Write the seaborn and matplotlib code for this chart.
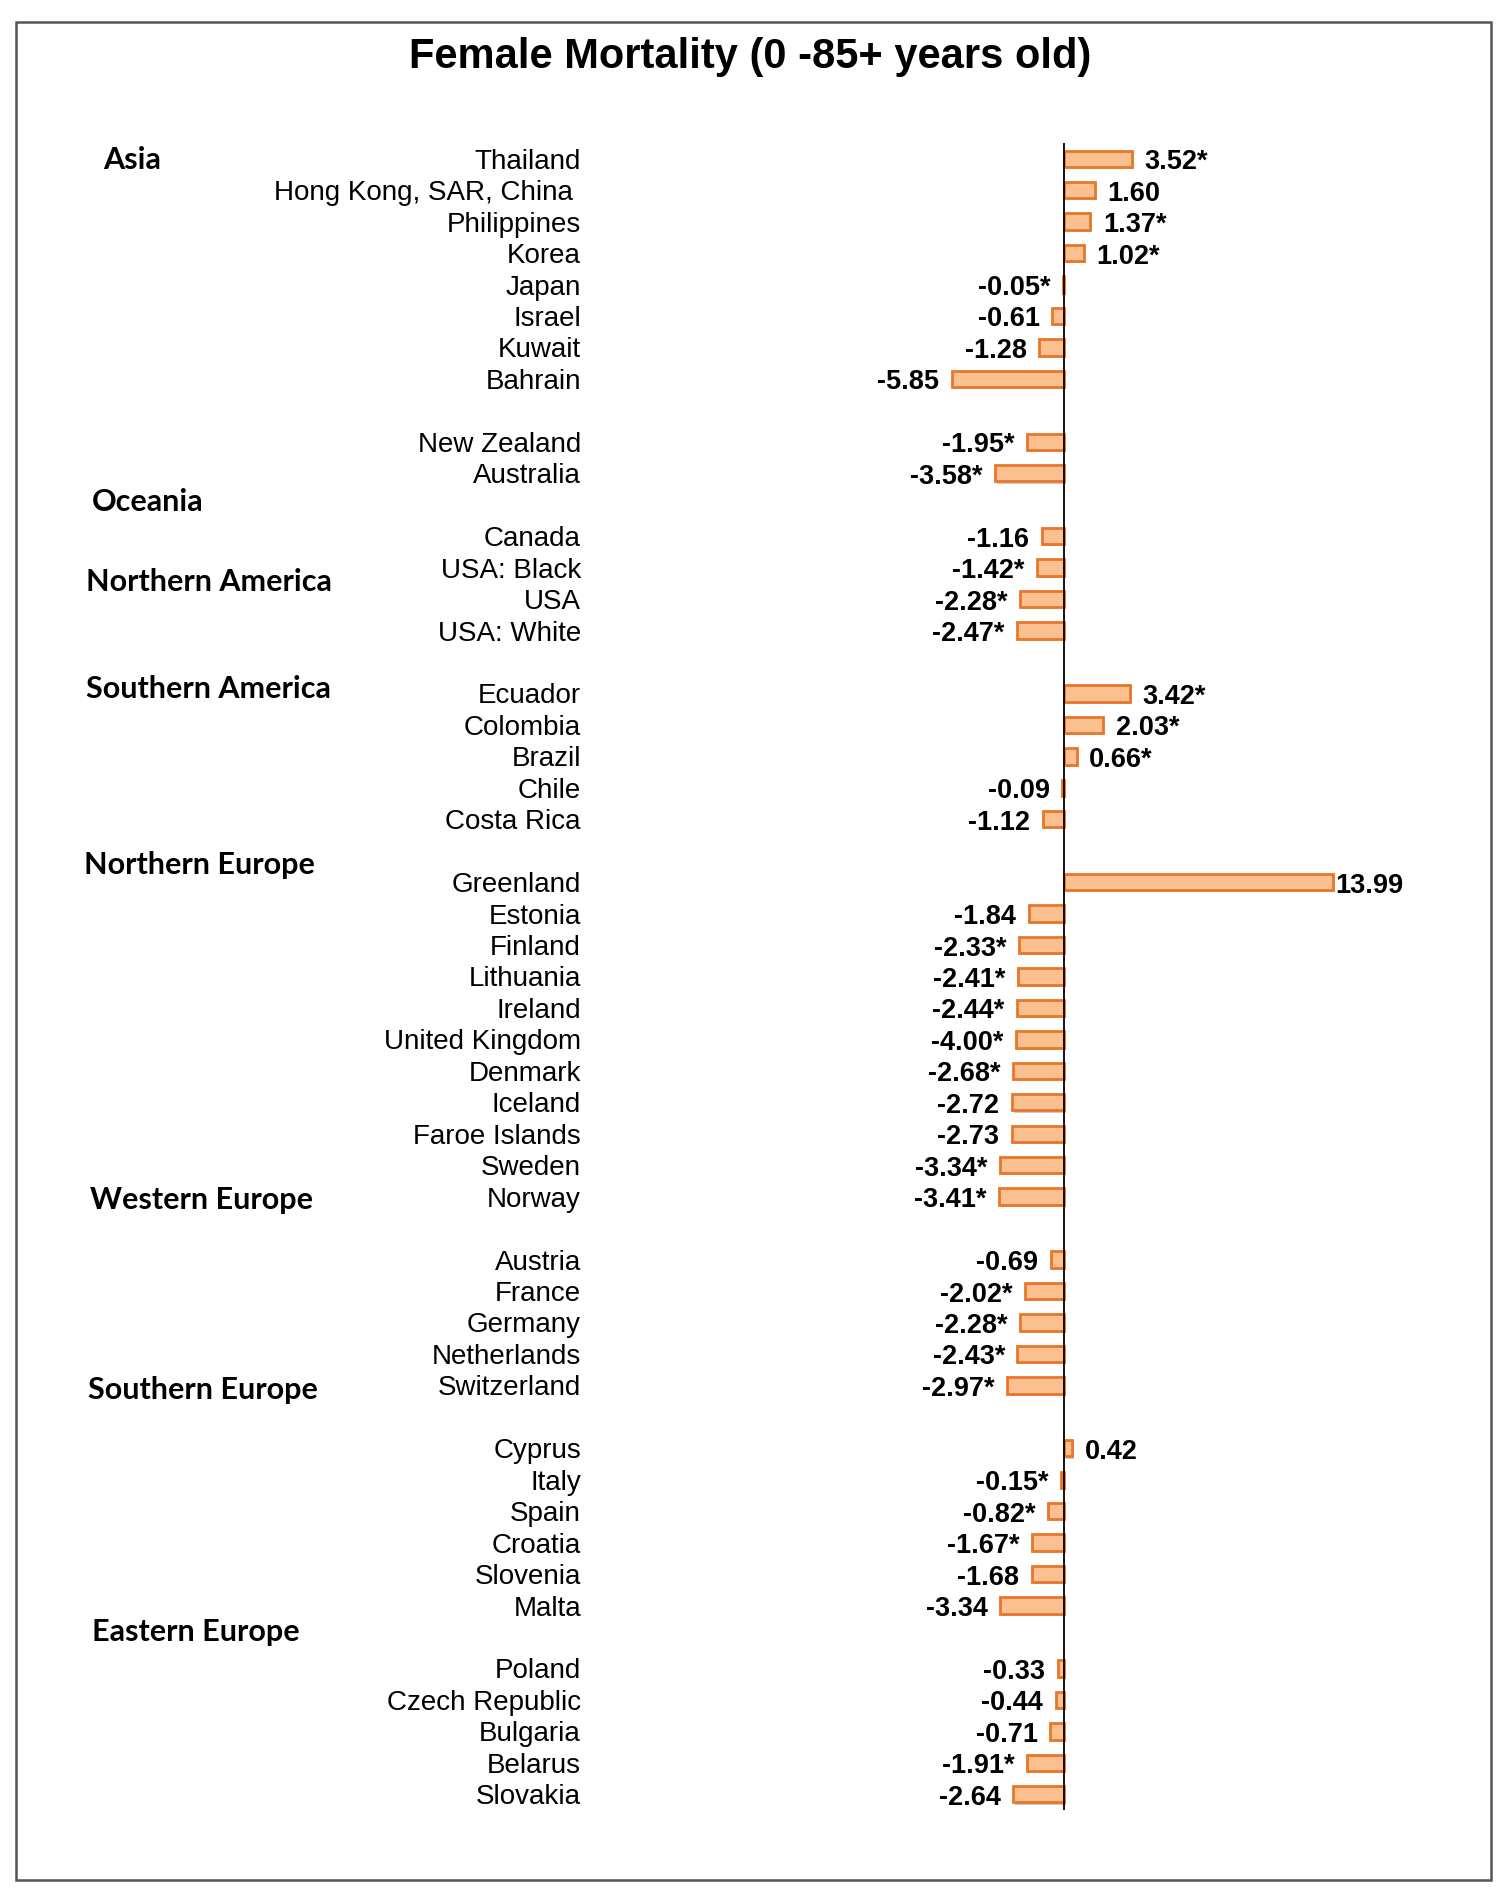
import matplotlib
matplotlib.use("Agg")
import matplotlib.pyplot as plt
import matplotlib.patheffects as pe
import matplotlib.transforms as mtransforms
from matplotlib.patches import Rectangle
import seaborn as sns
import pandas as pd

# --- data ---
region_names = ["Asia", "Oceania", "Northern America", "Southern America",
                "Northern Europe", "Western Europe", "Southern Europe", "Eastern Europe"]
group_sizes = [8, 2, 4, 5, 11, 5, 6, 5]

countries = [
    "Thailand", "Hong Kong, SAR, China ", "Philippines", "Korea", "Japan", "Israel", "Kuwait", "Bahrain",
    "New Zealand", "Australia",
    "Canada", "USA: Black", "USA", "USA: White",
    "Ecuador", "Colombia", "Brazil", "Chile", "Costa Rica",
    "Greenland", "Estonia", "Finland", "Lithuania", "Ireland", "United Kingdom", "Denmark",
    "Iceland", "Faroe Islands", "Sweden", "Norway",
    "Austria", "France", "Germany", "Netherlands", "Switzerland",
    "Cyprus", "Italy", "Spain", "Croatia", "Slovenia", "Malta",
    "Poland", "Czech Republic", "Bulgaria", "Belarus", "Slovakia",
]

# bar lengths as drawn (the UK bar is drawn shorter than its label says)
bar_values = [
    3.52, 1.60, 1.37, 1.02, -0.05, -0.61, -1.28, -5.85,
    -1.95, -3.58,
    -1.16, -1.42, -2.28, -2.47,
    3.42, 2.03, 0.66, -0.09, -1.12,
    13.99, -1.84, -2.33, -2.41, -2.44, -2.50, -2.68, -2.72, -2.73, -3.34, -3.41,
    -0.69, -2.02, -2.28, -2.43, -2.97,
    0.42, -0.15, -0.82, -1.67, -1.68, -3.34,
    -0.33, -0.44, -0.71, -1.91, -2.64,
]

value_labels = [
    "3.52*", "1.60", "1.37*", "1.02*", "-0.05*", "-0.61", "-1.28", "-5.85",
    "-1.95*", "-3.58*",
    "-1.16", "-1.42*", "-2.28*", "-2.47*",
    "3.42*", "2.03*", "0.66*", "-0.09", "-1.12",
    "13.99", "-1.84", "-2.33*", "-2.41*", "-2.44*", "-4.00*", "-2.68*", "-2.72", "-2.73", "-3.34*", "-3.41*",
    "-0.69", "-2.02*", "-2.28*", "-2.43*", "-2.97*",
    "0.42", "-0.15*", "-0.82*", "-1.67*", "-1.68", "-3.34",
    "-0.33", "-0.44", "-0.71", "-1.91*", "-2.64",
]

# where the region names sit (row index, left edge in px) - layout only
region_rows = [0.05, 10.9, 13.45, 16.85, 22.45, 33.1, 39.15, 46.85]
region_x_px = [103, 92, 86, 86, 84, 90, 88, 92]

FILL = "#FAC090"
EDGE = "#E8772A"

# slot order with a blank row between groups
order = []
start = 0
for i, n in enumerate(group_sizes):
    order += countries[start:start + n]
    start += n
    if i < len(group_sizes) - 1:
        order.append(f"__gap{i}")

df = pd.DataFrame({"country": countries, "value": bar_values})
label_of = dict(zip(countries, value_labels))

sns.set_style("white")
plt.rcParams["font.family"] = ["Liberation Sans", "DejaVu Sans"]
plt.rcParams["text.color"] = "black"
plt.rcParams["ytick.color"] = "black"
plt.rcParams["ytick.labelcolor"] = "black"

W, H = 1502, 1898
fig = plt.figure(figsize=(W / 100, H / 100), dpi=100)
ax = fig.add_axes([0.40, 1 - 1810 / H, 0.56, (1810 - 143) / H])

sns.barplot(data=df, y="country", x="value", order=order, orient="h",
            color=FILL, saturation=1, edgecolor=EDGE, linewidth=2,
            width=0.52, errorbar=None, ax=ax)

for p in ax.patches:
    p.set_path_effects([pe.SimplePatchShadow(offset=(1.5, -1.5), shadow_rgbFace="#999999", alpha=0.5),
                        pe.Normal()])

cont = ax.containers[0]
labels = [label_of[order[int(round(p.get_y() + p.get_height() / 2))]] for p in cont]
anns = ax.bar_label(cont, labels=labels, padding=9, fontsize=19.5, fontweight="bold", color="black")
for a, lab in zip(anns, labels):
    x, y = a.xyann
    if lab == "13.99":
        x = 2  # the long bar's label sits almost on the bar end
    a.xyann = (x, y - 2.5)

ax.axvline(0, color="black", lw=1.3, zorder=5)

ax.set_xlim(-24.125, 19.68)
ax.set_ylim(len(order) - 0.5, -0.5)
ax.set_xticks([])
ax.set_yticks(range(len(order)))
ax.set_yticklabels(["" if c.startswith("__gap") else c for c in order],
                   fontsize=20, family=["Liberation Sans", "DejaVu Sans"], color="black")
ax.tick_params(axis="y", length=0, pad=14.3)
ax.set_xlabel("")
ax.set_ylabel("")
for s in ax.spines.values():
    s.set_visible(False)

# region names: x in figure coords, y in data rows
trans = mtransforms.blended_transform_factory(fig.transFigure, ax.transData)
for name, row, xpx in zip(region_names, region_rows, region_x_px):
    ax.text(xpx / W, row, name, transform=trans, ha="left", va="center", color="black",
            fontsize=22, fontweight="bold", family=["Lato", "DejaVu Sans"])

fig.text(750 / W, 1 - 57 / H, "Female Mortality (0 -85+ years old)", ha="center", va="center",
         fontsize=30, fontweight="bold", color="black")

fig.patches.append(Rectangle((16 / W, 1 - 1880 / H), (1491 - 16) / W, (1880 - 22) / H,
                             transform=fig.transFigure, fill=False, edgecolor="#555555", lw=1.8))

fig.savefig("out.png", dpi=100)
